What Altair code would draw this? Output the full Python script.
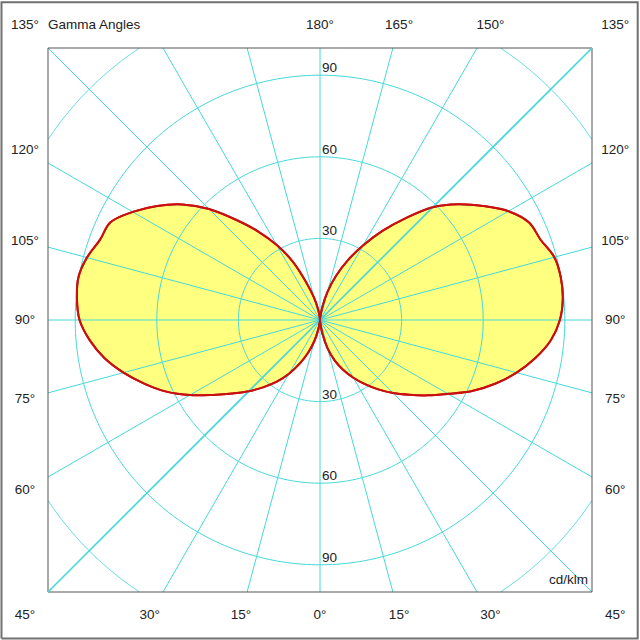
import altair as alt
import pandas as pd

# ---- data (cd/klm by gamma angle) ----
gamma = list(range(0, 181, 5))
right_cdklm = [0, 1.0, 5.0, 10.8, 15.9, 20.3, 24.5, 28.8, 33.3, 38.0, 42.8, 48.3, 54.3,
               61.7, 68.5, 74.8, 80.4, 85.2, 88.2, 89.6, 89.9, 89.2, 86.3, 84.8, 80.0,
               73.1, 66.2, 58.6, 48.8, 40.0, 31.6, 24.3, 17.3, 10.8, 4.8, 1.0, 0]
left_cdklm = [0, 0.5, 3.5, 8.0, 12.8, 17.7, 22.8, 27.7, 32.2, 37.0, 42.1, 48.0, 55.2,
              62.3, 68.6, 74.8, 80.5, 85.0, 88.4, 89.7, 90.2, 88.7, 86.1, 85.0, 79.5,
              73.1, 66.1, 57.7, 48.1, 39.8, 31.8, 23.7, 14.6, 8.5, 4.0, 1.0, 0]

rings = [30, 60, 90, 120]
ring_labels = [30, 60, 90]
spoke_angles = list(range(0, 360, 15))
diag_angles = [45, 225]
edge_right = [0, 15, 30, 45, 60, 75, 90, 105, 120, 135, 150, 165, 180]
edge_left = [15, 30, 45, 60, 75, 90, 105, 120, 135]
title_text = "Gamma Angles"
unit_text = "cd/klm"
domain_half = 100
outer_box = [-117.1, 116.8]

FONT = "Arial, Liberation Sans, sans-serif"
GRID = "#45d8d8"
FILL = "#ffff80"
RED = "#c81010"
TXT = "#222222"
FS = 13.5

xs = alt.Scale(domain=[-domain_half, domain_half], nice=False, zero=False)
ys = alt.Scale(domain=[-domain_half, domain_half], nice=False, zero=False)

curve_df = pd.DataFrame({
    "gamma": gamma + gamma,
    "cd": right_cdklm + left_cdklm,
    "side": [1] * len(gamma) + [-1] * len(gamma),
})

curve_base = alt.Chart(curve_df).transform_calculate(
    x="datum.side * datum.cd * sin(datum.gamma * PI / 180)",
    y="-datum.cd * cos(datum.gamma * PI / 180)",
).encode(
    x=alt.X("x:Q", scale=xs, axis=None),
    y=alt.Y("y:Q", scale=ys, axis=None),
    detail="side:N",
    order=alt.Order("gamma:Q"),
)

fill_layer = curve_base.mark_line(fill=FILL, strokeOpacity=0, interpolate="catmull-rom")
line_layer = curve_base.mark_line(color=RED, strokeWidth=2, interpolate="catmull-rom")

# grid: circles (sampled, kept inside the frame) and spokes, as one set of polylines
grid_rows = []
for r in rings:
    n = 3600 if r > domain_half else 360
    for i in range(n + 1):
        grid_rows.append(("ring", r, i * 360.0 / n, 0))
for a in spoke_angles:
    for k in (0, 1):
        grid_rows.append(("spoke", 0, a, k))
grid_df = pd.DataFrame(grid_rows, columns=["kind", "ring", "a", "k"])

grid_layer = alt.Chart(grid_df).transform_calculate(
    s="sin(datum.a * PI / 180)",
    c="cos(datum.a * PI / 180)",
).transform_calculate(
    rad="datum.kind == 'ring' ? datum.ring : datum.k * 100 / max(abs(datum.s), abs(datum.c))",
    key="datum.kind == 'ring' ? ('r' + datum.ring + '_' + (datum.ring > 100 ? floor(datum.a / 90) : 0)) : ('s' + datum.a)",
    ord="datum.kind == 'ring' ? datum.a : datum.k",
).transform_calculate(
    x="datum.rad * datum.s",
    y="datum.rad * datum.c",
).transform_filter(
    "abs(datum.x) <= 100.001 && abs(datum.y) <= 100.001"
).mark_line(color=GRID, strokeWidth=1).encode(
    x=alt.X("x:Q", scale=xs, axis=None),
    y=alt.Y("y:Q", scale=ys, axis=None),
    detail="key:N",
    order=alt.Order("ord:Q"),
)

# the two diagonal spokes, drawn again on top
diag_df = pd.DataFrame([(a, k) for a in diag_angles for k in (0, 1)], columns=["a", "k"])
diag_layer = alt.Chart(diag_df).transform_calculate(
    s="sin(datum.a * PI / 180)",
    c="cos(datum.a * PI / 180)",
).transform_calculate(
    t="datum.k * 100 / max(abs(datum.s), abs(datum.c))",
).transform_calculate(
    x="datum.t * datum.s",
    y="datum.t * datum.c",
).mark_line(color=GRID, strokeWidth=1.6).encode(
    x=alt.X("x:Q", scale=xs, axis=None),
    y=alt.Y("y:Q", scale=ys, axis=None),
    detail="a:N",
    order=alt.Order("k:Q"),
)

rl_df = pd.DataFrame({"r": ring_labels + ring_labels,
                      "sgn": [1] * len(ring_labels) + [-1] * len(ring_labels)})
ring_text = alt.Chart(rl_df).transform_calculate(
    x="0", y="datum.sgn * datum.r", t="'' + datum.r",
).mark_text(align="left", baseline="alphabetic", dx=2, dy=-3, font=FONT,
            fontSize=FS, color=TXT).encode(
    x=alt.X("x:Q", scale=xs, axis=None),
    y=alt.Y("y:Q", scale=ys, axis=None),
    text="t:N",
)

edge_df = pd.DataFrame({"g": edge_right + edge_left,
                        "side": [1] * len(edge_right) + [-1] * len(edge_left)})
edge_text = alt.Chart(edge_df).transform_calculate(
    s="sin(datum.g * PI / 180)",
    c="cos(datum.g * PI / 180)",
).transform_calculate(
    t="108.5 / max(abs(datum.s), abs(datum.c))",
).transform_calculate(
    x="datum.side * datum.s * datum.t",
    y="-datum.c * datum.t",
    lab="datum.g + '°'",
).mark_text(align="center", baseline="middle", font=FONT, fontSize=FS, color=TXT).encode(
    x=alt.X("x:Q", scale=xs, axis=None),
    y=alt.Y("y:Q", scale=ys, axis=None),
    text="lab:N",
)

title_layer = alt.Chart(pd.DataFrame({"t": [title_text]})).transform_calculate(
    x=f"{-domain_half}", y="108.5",
).mark_text(align="left", baseline="middle", font=FONT, fontSize=FS, color=TXT).encode(
    x=alt.X("x:Q", scale=xs, axis=None),
    y=alt.Y("y:Q", scale=ys, axis=None),
    text="t:N",
)

unit_layer = alt.Chart(pd.DataFrame({"t": [unit_text]})).transform_calculate(
    x=f"{domain_half}", y=f"{-domain_half}",
).mark_text(align="right", baseline="alphabetic", dx=-4, dy=-8, font=FONT,
            fontSize=FS, color=TXT).encode(
    x=alt.X("x:Q", scale=xs, axis=None),
    y=alt.Y("y:Q", scale=ys, axis=None),
    text="t:N",
)


def box_path(lo, hi, color, width):
    df = pd.DataFrame({
        "bx": [lo, hi, hi, lo, lo],
        "by": [lo, lo, hi, hi, lo],
        "i": [0, 1, 2, 3, 4],
    })
    return alt.Chart(df).mark_line(color=color, strokeWidth=width).encode(
        x=alt.X("bx:Q", scale=xs, axis=None),
        y=alt.Y("by:Q", scale=ys, axis=None),
        order=alt.Order("i:Q"),
    )


frame_layer = box_path(-domain_half, domain_half, "#555555", 1)
outer_layer = box_path(outer_box[0], outer_box[1], "#707070", 2)

chart = alt.layer(
    fill_layer, grid_layer, line_layer, frame_layer,
    ring_text, edge_text, title_layer, unit_layer, outer_layer,
    diag_layer, line_layer,
).properties(
    width=544, height=544,
    padding={"left": 48, "right": 48, "top": 48, "bottom": 48},
    autosize="none",
    background="white",
).configure_view(strokeWidth=0)

chart.save("out.html", embed_options={"renderer": "svg", "actions": False})
